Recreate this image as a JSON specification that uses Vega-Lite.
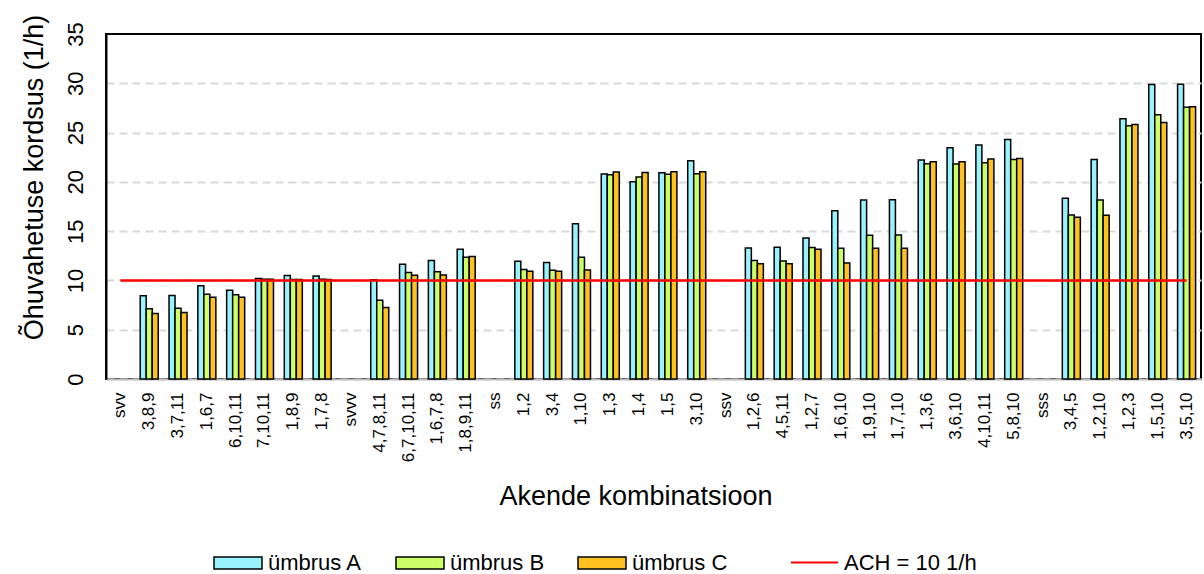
{
  "$schema": "https://vega.github.io/schema/vega-lite/v6.json",
  "autosize": {"type": "none"},
  "width": 1095,
  "height": 345,
  "padding": {"left": 106, "top": 34, "right": 3, "bottom": 195},
  "background": "white",
  "config": {
    "font": "Liberation Sans",
    "view": {"stroke": "#000000", "strokeWidth": 2},
    "axis": {"labelFont": "Liberation Sans", "titleFont": "Liberation Sans", "labelColor": "#000", "titleColor": "#000", "titleFontWeight": "normal", "ticks": false},
    "axisX": {"titleFontSize": 27, "titleX": 529.5, "titleY": 125, "titleAlign": "center", "titleBaseline": "alphabetic",
              "labelAngle": -90, "labelAlign": "right", "labelBaseline": "middle", "labelFontSize": 17, "labelPadding": 13,
              "domainColor": "#BFBFBF", "domainWidth": 2, "labelOverlap": false, "grid": false},
    "axisY": {"titleFontSize": 27, "titleAngle": -90, "titleX": -64, "titleY": 143, "titleAlign": "center", "titleBaseline": "alphabetic",
              "labelAngle": 270, "labelAlign": "center", "labelBaseline": "alphabetic", "labelFontSize": 22, "labelPadding": 24,
              "domainColor": "#000000", "domainWidth": 2,
              "grid": true, "gridColor": "#D9D9D9", "gridWidth": 2, "gridDash": [8, 5]},
    "legend": {"labelFont": "Liberation Sans", "labelColor": "#000"}
  },
  "data": {"values": [
    {"k":"svv","s":"ümbrus A","v":null},
    {"k":"3,8,9","s":"ümbrus A","v":8.44},{"k":"3,8,9","s":"ümbrus B","v":7.12},{"k":"3,8,9","s":"ümbrus C","v":6.65},
    {"k":"3,7,11","s":"ümbrus A","v":8.47},{"k":"3,7,11","s":"ümbrus B","v":7.19},{"k":"3,7,11","s":"ümbrus C","v":6.75},
    {"k":"1,6,7","s":"ümbrus A","v":9.45},{"k":"1,6,7","s":"ümbrus B","v":8.61},{"k":"1,6,7","s":"ümbrus C","v":8.3},
    {"k":"6,10,11","s":"ümbrus A","v":9.01},{"k":"6,10,11","s":"ümbrus B","v":8.54},{"k":"6,10,11","s":"ümbrus C","v":8.3},
    {"k":"7,10,11","s":"ümbrus A","v":10.19},{"k":"7,10,11","s":"ümbrus B","v":10.12},{"k":"7,10,11","s":"ümbrus C","v":10.12},
    {"k":"1,8,9","s":"ümbrus A","v":10.5},{"k":"1,8,9","s":"ümbrus B","v":10.09},{"k":"1,8,9","s":"ümbrus C","v":10.09},
    {"k":"1,7,8","s":"ümbrus A","v":10.46},{"k":"1,7,8","s":"ümbrus B","v":10.12},{"k":"1,7,8","s":"ümbrus C","v":10.09},
    {"k":"svvv","s":"ümbrus A","v":null},
    {"k":"4,7,8,11","s":"ümbrus A","v":10.06},{"k":"4,7,8,11","s":"ümbrus B","v":8.0},{"k":"4,7,8,11","s":"ümbrus C","v":7.26},
    {"k":"6,7,10,11","s":"ümbrus A","v":11.64},{"k":"6,7,10,11","s":"ümbrus B","v":10.8},{"k":"6,7,10,11","s":"ümbrus C","v":10.53},
    {"k":"1,6,7,8","s":"ümbrus A","v":12.01},{"k":"1,6,7,8","s":"ümbrus B","v":10.87},{"k":"1,6,7,8","s":"ümbrus C","v":10.56},
    {"k":"1,8,9,11","s":"ümbrus A","v":13.16},{"k":"1,8,9,11","s":"ümbrus B","v":12.35},{"k":"1,8,9,11","s":"ümbrus C","v":12.42},
    {"k":"ss","s":"ümbrus A","v":null},
    {"k":"1,2","s":"ümbrus A","v":11.95},{"k":"1,2","s":"ümbrus B","v":11.1},{"k":"1,2","s":"ümbrus C","v":10.93},
    {"k":"3,4","s":"ümbrus A","v":11.81},{"k":"3,4","s":"ümbrus B","v":11.04},{"k":"3,4","s":"ümbrus C","v":10.93},
    {"k":"1,10","s":"ümbrus A","v":15.76},{"k":"1,10","s":"ümbrus B","v":12.35},{"k":"1,10","s":"ümbrus C","v":11.07},
    {"k":"1,3","s":"ümbrus A","v":20.79},{"k":"1,3","s":"ümbrus B","v":20.72},{"k":"1,3","s":"ümbrus C","v":20.99},
    {"k":"1,4","s":"ümbrus A","v":20.01},{"k":"1,4","s":"ümbrus B","v":20.49},{"k":"1,4","s":"ümbrus C","v":20.96},
    {"k":"1,5","s":"ümbrus A","v":20.92},{"k":"1,5","s":"ümbrus B","v":20.76},{"k":"1,5","s":"ümbrus C","v":21.03},
    {"k":"3,10","s":"ümbrus A","v":22.14},{"k":"3,10","s":"ümbrus B","v":20.82},{"k":"3,10","s":"ümbrus C","v":21.03},
    {"k":"ssv","s":"ümbrus A","v":null},
    {"k":"1,2,6","s":"ümbrus A","v":13.3},{"k":"1,2,6","s":"ümbrus B","v":12.01},{"k":"1,2,6","s":"ümbrus C","v":11.68},
    {"k":"4,5,11","s":"ümbrus A","v":13.36},{"k":"4,5,11","s":"ümbrus B","v":11.98},{"k":"4,5,11","s":"ümbrus C","v":11.68},
    {"k":"1,2,7","s":"ümbrus A","v":14.31},{"k":"1,2,7","s":"ümbrus B","v":13.33},{"k":"1,2,7","s":"ümbrus C","v":13.16},
    {"k":"1,6,10","s":"ümbrus A","v":17.08},{"k":"1,6,10","s":"ümbrus B","v":13.26},{"k":"1,6,10","s":"ümbrus C","v":11.78},
    {"k":"1,9,10","s":"ümbrus A","v":18.16},{"k":"1,9,10","s":"ümbrus B","v":14.58},{"k":"1,9,10","s":"ümbrus C","v":13.26},
    {"k":"1,7,10","s":"ümbrus A","v":18.19},{"k":"1,7,10","s":"ümbrus B","v":14.61},{"k":"1,7,10","s":"ümbrus C","v":13.26},
    {"k":"1,3,6","s":"ümbrus A","v":22.21},{"k":"1,3,6","s":"ümbrus B","v":21.84},{"k":"1,3,6","s":"ümbrus C","v":22.04},
    {"k":"3,6,10","s":"ümbrus A","v":23.46},{"k":"3,6,10","s":"ümbrus B","v":21.8},{"k":"3,6,10","s":"ümbrus C","v":22.04},
    {"k":"4,10,11","s":"ümbrus A","v":23.73},{"k":"4,10,11","s":"ümbrus B","v":21.94},{"k":"4,10,11","s":"ümbrus C","v":22.31},
    {"k":"5,8,10","s":"ümbrus A","v":24.3},{"k":"5,8,10","s":"ümbrus B","v":22.27},{"k":"5,8,10","s":"ümbrus C","v":22.38},
    {"k":"sss","s":"ümbrus A","v":null},
    {"k":"3,4,5","s":"ümbrus A","v":18.33},{"k":"3,4,5","s":"ümbrus B","v":16.64},{"k":"3,4,5","s":"ümbrus C","v":16.4},
    {"k":"1,2,10","s":"ümbrus A","v":22.27},{"k":"1,2,10","s":"ümbrus B","v":18.16},{"k":"1,2,10","s":"ümbrus C","v":16.6},
    {"k":"1,2,3","s":"ümbrus A","v":26.39},{"k":"1,2,3","s":"ümbrus B","v":25.68},{"k":"1,2,3","s":"ümbrus C","v":25.82},
    {"k":"1,5,10","s":"ümbrus A","v":29.87},{"k":"1,5,10","s":"ümbrus B","v":26.8},{"k":"1,5,10","s":"ümbrus C","v":26.02},
    {"k":"3,5,10","s":"ümbrus A","v":29.9},{"k":"3,5,10","s":"ümbrus B","v":27.57},{"k":"3,5,10","s":"ümbrus C","v":27.61}
  ]},
  "encoding": {
    "x": {"field": "k", "type": "nominal", "sort": null,
          "scale": {"domain": ["svv","3,8,9","3,7,11","1,6,7","6,10,11","7,10,11","1,8,9","1,7,8","svvv","4,7,8,11","6,7,10,11","1,6,7,8","1,8,9,11","ss","1,2","3,4","1,10","1,3","1,4","1,5","3,10","ssv","1,2,6","4,5,11","1,2,7","1,6,10","1,9,10","1,7,10","1,3,6","3,6,10","4,10,11","5,8,10","sss","3,4,5","1,2,10","1,2,3","1,5,10","3,5,10"],
                    "paddingInner": 0.375, "paddingOuter": 0.1875},
          "axis": {"title": "Akende kombinatsioon", "labelFontSize": 17}}
  },
  "layer": [
    {
      "mark": {"type": "bar", "stroke": "#000000", "strokeWidth": 1.5},
      "encoding": {
        "xOffset": {"field": "s", "type": "nominal", "scale": {"domain": ["ümbrus A","ümbrus B","ümbrus C"], "paddingInner": 0, "paddingOuter": 0}},
        "y": {"field": "v", "type": "quantitative", "scale": {"domain": [0, 35], "nice": false},
              "axis": {"title": "Õhuvahetuse kordsus (1/h)", "values": [0,5,10,15,20,25,30,35],
                       "labelAngle": 270, "labelFontSize": 22,
                       "gridOpacity": {"condition": {"test": "datum.value === 35", "value": 0}, "value": 1}}},
        "fill": {"field": "s", "type": "nominal",
                 "scale": {"domain": ["ümbrus A","ümbrus B","ümbrus C"], "range": ["#99F3FF","#CCFF66","#FFC022"]},
                 "legend": {"title": null, "orient": "none", "direction": "horizontal", "legendX": 107, "legendY": 504, "padding": 0,
                            "symbolType": "M-1,-0.25H1V0.25H-1Z", "symbolSize": 2304, "symbolStrokeColor": "#000", "symbolStrokeWidth": 1.5,
                            "labelFontSize": 22, "labelOffset": 5, "columnPadding": 30, "symbolOpacity": 1}}
      }
    },
    {
      "mark": {"type": "line", "strokeWidth": 2.5},
      "transform": [{"filter": "datum.s === 'ümbrus A'"}, {"calculate": "'ACH = 10 1/h'", "as": "ach"}],
      "encoding": {
        "y": {"datum": 10, "type": "quantitative"},
        "stroke": {"field": "ach", "type": "nominal",
                   "scale": {"domain": ["ACH = 10 1/h"], "range": ["#FF0000"]},
                   "legend": {"title": null, "orient": "none", "direction": "horizontal", "legendX": 684, "legendY": 504, "padding": 0,
                              "symbolType": "stroke", "symbolSize": 2209, "symbolStrokeWidth": 2,
                              "labelFontSize": 22, "labelOffset": 5}}
      }
    }
  ]
}
